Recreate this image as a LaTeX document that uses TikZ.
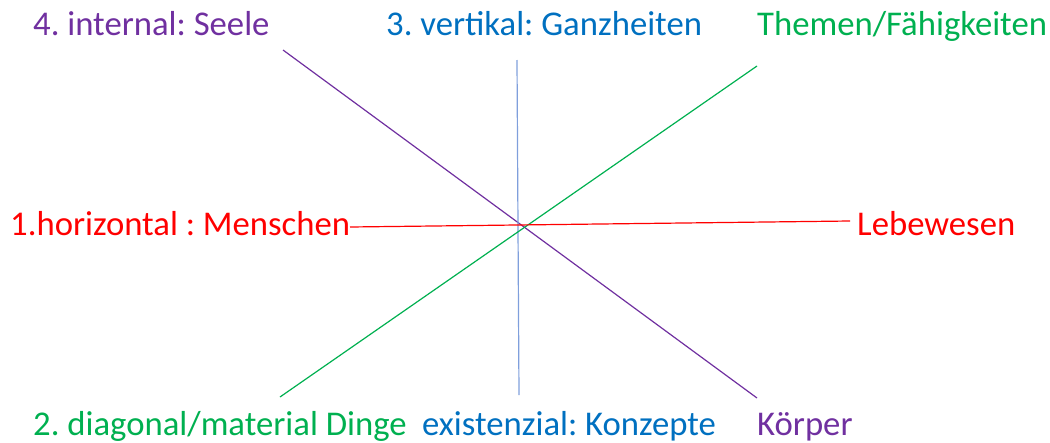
\documentclass[tikz,border=0pt]{standalone}
\usepackage{fontspec}
\setmainfont{Carlito}
\frenchspacing
\definecolor{cpurple}{HTML}{7030A0}
\definecolor{cblue}{HTML}{0070C0}
\definecolor{cgreen}{HTML}{00B050}
\definecolor{cred}{HTML}{FF0000}
\definecolor{lblue}{HTML}{7F9FDC}
\begin{document}
\begin{tikzpicture}[x=1pt,y=-1pt,
  lbl/.style={anchor=base west,inner sep=0pt,font=\fontsize{34.7}{38}\selectfont},
  axis/.style={line width=1.2pt}]
\useasboundingbox (0,0) rectangle (1050,442);
% labels
\node[lbl,text=cpurple] (internal) at (33,35) {4. internal: Seele};
\node[lbl,text=cblue] (vertikal) at (386,35) {3. vertikal: Ganzheiten};
\node[lbl,text=cgreen] (themen) at (757,35) {Themen/Fähigkeiten};
\node[lbl,text=cred] (horizontal) at (10,235) {1.horizontal : Menschen};
\node[lbl,text=cred] (lebewesen) at (857,235) {Lebewesen};
\node[lbl,text=cgreen] (diagonal) at (33,435) {2. diagonal/material Dinge};
\node[lbl,text=cblue] (existenzial) at (422,435) {existenzial: Konzepte};
\node[lbl,text=cpurple] (koerper) at (757,435) {Körper};
% line ends
\coordinate (p1) at (283,50);
\coordinate (p2) at (757,398);
\coordinate (b1) at (517,60);
\coordinate (b2) at (519,395);
\coordinate (g1) at (757,66);
\coordinate (g2) at (280,397);
\coordinate (r1) at (350,227);
\coordinate (r2) at (850,221);
% axes
\draw[axis,cpurple] (p1) -- (p2);
\draw[axis,lblue] (b1) -- (b2);
\draw[axis,cgreen] (g1) -- (g2);
\draw[axis,cred] (r1) -- (r2);
\end{tikzpicture}
\end{document}
